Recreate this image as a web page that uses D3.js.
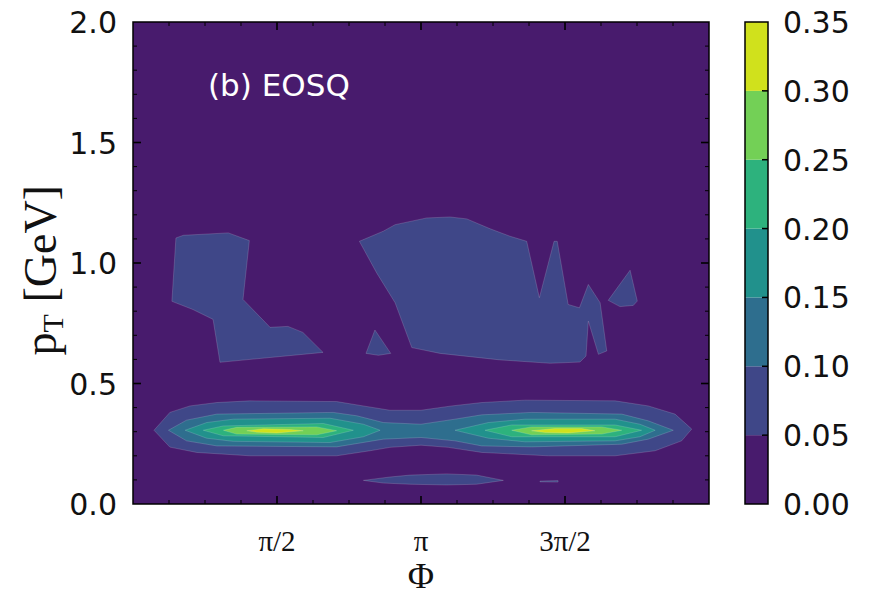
<!DOCTYPE html>
<html>
<head>
    <title>EOSQ contour</title>
    <meta charset="UTF-8">
    <script src="https://d3js.org/d3.v7.min.js"></script>
    <style>
        body { margin: 0; background: #fff; }
        svg text { font-family: "DejaVu Sans", sans-serif; }
        .serif { font-family: "Liberation Serif", "DejaVu Serif", serif !important; }
    </style>
</head>
<body>
<svg width="871" height="597"></svg>
<script>
    // contour levels of the density
    var levels = [0, 0.05, 0.10, 0.15, 0.20, 0.25, 0.30, 0.35];

    // x ticks, in units of pi
    var phiMajor = [0.5, 1, 1.5];
    var phiLabels = ["\u03c0/2", "\u03c0", "3\u03c0/2"];
    var ptMajor = [0, 0.5, 1.0, 1.5, 2.0];

    // regions above each level, vertices as [phi/pi, pT]
    var above005 = [
        [[0.149,1.104],[0.175,1.115],[0.331,1.125],[0.404,1.093],[0.382,0.849],[0.476,0.733],[0.538,0.737],[0.590,0.712],[0.660,0.629],[0.302,0.588],[0.278,0.766],[0.208,0.807],[0.135,0.841]],
        [[0.786,1.090],[0.869,1.132],[0.910,1.159],[1.020,1.187],[1.101,1.191],[1.159,1.183],[1.240,1.142],[1.309,1.111],[1.367,1.090],[1.411,0.856],[1.462,1.090],[1.473,1.090],[1.511,0.828],[1.550,0.814],[1.581,0.911],[1.622,0.835],[1.645,0.635],[1.616,0.621],[1.581,0.759],[1.573,0.614],[1.552,0.589],[1.448,0.584],[1.274,0.598],[1.066,0.625],[0.968,0.649],[0.910,0.835],[0.846,0.959]],
        [[0.840,0.722],[0.895,0.625],[0.852,0.617],[0.809,0.625]],
        [[1.726,0.970],[1.751,0.842],[1.737,0.824],[1.691,0.819],[1.650,0.845]],
        [[0.073,0.306],[0.128,0.380],[0.198,0.407],[0.291,0.421],[0.406,0.428],[0.707,0.425],[0.799,0.407],[0.892,0.389],[1.000,0.389],[1.107,0.407],[1.211,0.421],[1.361,0.431],[1.674,0.428],[1.789,0.407],[1.882,0.373],[1.940,0.311],[1.905,0.262],[1.813,0.221],[1.674,0.200],[1.442,0.200],[1.211,0.214],[1.095,0.235],[1.000,0.244],[0.892,0.235],[0.823,0.221],[0.707,0.200],[0.406,0.200],[0.221,0.214],[0.128,0.236]],
        [[0.800,0.098],[0.892,0.112],[0.962,0.120],[1.089,0.125],[1.193,0.120],[1.286,0.098],[1.193,0.082],[1.089,0.079],[0.962,0.082],[0.869,0.087]],
        [[1.413,0.095],[1.476,0.097],[1.476,0.091],[1.413,0.092]]
    ];
    var above010 = [
        [[0.123,0.306],[0.186,0.348],[0.291,0.373],[0.695,0.380],[0.777,0.366],[0.869,0.338],[1.000,0.331],[1.118,0.352],[1.211,0.370],[1.384,0.380],[1.697,0.373],[1.789,0.345],[1.876,0.306],[1.789,0.269],[1.697,0.248],[1.384,0.237],[1.211,0.241],[1.118,0.262],[1.000,0.276],[0.869,0.269],[0.707,0.237],[0.291,0.241],[0.186,0.262]]
    ];
    var above015 = [
        [[0.181,0.306],[0.256,0.338],[0.348,0.352],[0.684,0.356],[0.800,0.331],[0.858,0.306],[0.800,0.279],[0.684,0.255],[0.348,0.260],[0.256,0.273]],
        [[1.118,0.306],[1.234,0.338],[1.361,0.352],[1.674,0.352],[1.760,0.331],[1.813,0.306],[1.760,0.279],[1.674,0.262],[1.361,0.258],[1.234,0.273]]
    ];
    var above020 = [
        [[0.244,0.306],[0.314,0.324],[0.661,0.334],[0.765,0.306],[0.661,0.276],[0.314,0.283]],
        [[1.222,0.306],[1.315,0.328],[1.674,0.328],[1.766,0.306],[1.674,0.279],[1.315,0.279]]
    ];
    var above025 = [
        [[0.314,0.306],[0.360,0.318],[0.638,0.320],[0.707,0.304],[0.638,0.287],[0.360,0.290]],
        [[1.315,0.306],[1.384,0.320],[1.627,0.320],[1.697,0.306],[1.627,0.290],[1.384,0.287]]
    ];
    var above030 = [
        [[0.395,0.304],[0.452,0.312],[0.545,0.309],[0.591,0.304],[0.499,0.295],[0.430,0.298]],
        [[1.384,0.304],[1.465,0.313],[1.558,0.313],[1.604,0.304],[1.511,0.295],[1.431,0.297]]
    ];
    var regionsByLevel = [above005, above010, above015, above020, above025, above030];

    var svg = d3.select("svg");
    var mLeft = 133, mRight = 709, mTop = 22, mBottom = 504;

    var x = d3.scaleLinear().domain([0, 2 * Math.PI]).range([mLeft, mRight]);
    var y = d3.scaleLinear().domain([0, 2]).range([mBottom, mTop]);

    // matplotlib contourf colours: viridis sampled at the layer centres
    var nLayers = levels.length - 1;
    var layerColor = function(i) { return d3.interpolateViridis((i + 0.5) / nLayers); };

    var plot = svg.append("g");
    plot.append("rect")
        .attr("x", mLeft).attr("y", mTop)
        .attr("width", mRight - mLeft).attr("height", mBottom - mTop)
        .attr("fill", layerColor(0));

    var line = d3.line()
        .x(function(d) { return x(d[0] * Math.PI); })
        .y(function(d) { return y(d[1]); })
        .curve(d3.curveLinearClosed);

    regionsByLevel.forEach(function(regions, i) {
        plot.selectAll("path.l" + i)
            .data(regions)
            .enter()
            .append("path")
            .attr("class", "l" + i)
            .attr("d", line)
            .attr("fill", layerColor(i + 1))
            .attr("stroke", "rgba(255,255,255,0.2)")
            .attr("stroke-width", 0.8);
    });

    // ticks on all four sides, pointing inward
    var phiMinor = d3.range(1, 16).map(function(k) { return k / 8; });
    var ptMinor = d3.range(1, 20).map(function(k) { return k / 10; });
    var ticks = svg.append("g").attr("stroke", "#000");

    phiMinor.forEach(function(p) {
        var major = phiMajor.indexOf(p) >= 0;
        var len = major ? 8 : 4;
        var xx = x(p * Math.PI);
        ticks.append("line").attr("x1", xx).attr("x2", xx).attr("y1", mBottom).attr("y2", mBottom - len).attr("stroke-width", major ? 1.6 : 1);
        ticks.append("line").attr("x1", xx).attr("x2", xx).attr("y1", mTop).attr("y2", mTop + len).attr("stroke-width", major ? 1.6 : 1);
    });
    ptMinor.forEach(function(v) {
        var major = Math.abs(v * 2 - Math.round(v * 2)) < 1e-6;
        var len = major ? 8 : 4;
        var yy = y(v);
        ticks.append("line").attr("y1", yy).attr("y2", yy).attr("x1", mLeft).attr("x2", mLeft + len).attr("stroke-width", major ? 1.6 : 1);
        ticks.append("line").attr("y1", yy).attr("y2", yy).attr("x1", mRight).attr("x2", mRight - len).attr("stroke-width", major ? 1.6 : 1);
    });

    svg.append("rect")
        .attr("x", mLeft).attr("y", mTop)
        .attr("width", mRight - mLeft).attr("height", mBottom - mTop)
        .attr("fill", "none").attr("stroke", "#000").attr("stroke-width", 1.5);

    // tick labels
    svg.selectAll("text.ylab")
        .data(ptMajor)
        .enter()
        .append("text")
        .attr("class", "ylab")
        .attr("x", mLeft - 16)
        .attr("y", function(d) { return y(d) + 11; })
        .attr("text-anchor", "end")
        .attr("font-size", 30)
        .attr("fill", "#111")
        .text(function(d) { return d3.format(".1f")(d); });

    svg.selectAll("text.xlab")
        .data(phiMajor)
        .enter()
        .append("text")
        .attr("class", "xlab serif")
        .attr("x", function(d) { return x(d * Math.PI); })
        .attr("y", 551)
        .attr("text-anchor", "middle")
        .attr("font-size", 29)
        .attr("fill", "#111")
        .text(function(d, i) { return phiLabels[i]; });

    // axis titles
    svg.append("text")
        .attr("class", "serif")
        .attr("x", x(Math.PI)).attr("y", 588)
        .attr("text-anchor", "middle")
        .attr("font-size", 36)
        .attr("fill", "#111")
        .text("\u03a6");

    var yt = svg.append("text")
        .attr("class", "serif")
        .attr("transform", "translate(56," + y(0.97) + ") rotate(-90)")
        .attr("text-anchor", "middle")
        .attr("font-size", 46)
        .attr("fill", "#111");
    yt.append("tspan").text("p");
    yt.append("tspan").attr("font-size", 30).attr("dy", 7).text("T");
    yt.append("tspan").attr("dy", -7).text(" [GeV]");

    svg.append("text")
        .attr("x", 208).attr("y", 96)
        .attr("font-size", 31)
        .attr("fill", "#fff")
        .text("(b) EOSQ");

    // colour bar
    var cbLeft = 745, cbWidth = 23;
    var cy = d3.scaleLinear().domain([0, 0.35]).range([mBottom, mTop]);
    var cb = svg.append("g");
    cb.selectAll("rect.seg")
        .data(d3.range(nLayers))
        .enter()
        .append("rect")
        .attr("class", "seg")
        .attr("x", cbLeft)
        .attr("y", function(i) { return cy(levels[i + 1]); })
        .attr("width", cbWidth)
        .attr("height", function(i) { return cy(levels[i]) - cy(levels[i + 1]); })
        .attr("fill", function(i) { return layerColor(i); });
    cb.selectAll("line.cbt")
        .data(levels.slice(1, -1))
        .enter()
        .append("line")
        .attr("x1", cbLeft + cbWidth - 6).attr("x2", cbLeft + cbWidth)
        .attr("y1", function(d) { return cy(d); }).attr("y2", function(d) { return cy(d); })
        .attr("stroke", "#000").attr("stroke-width", 1.5);
    cb.append("rect")
        .attr("x", cbLeft).attr("y", mTop)
        .attr("width", cbWidth).attr("height", mBottom - mTop)
        .attr("fill", "none").attr("stroke", "#000").attr("stroke-width", 1.5);
    cb.selectAll("text.cbl")
        .data(levels)
        .enter()
        .append("text")
        .attr("class", "cbl")
        .attr("x", 783)
        .attr("y", function(d) { return cy(d) + 11; })
        .attr("font-size", 30)
        .attr("fill", "#111")
        .text(function(d) { return d3.format(".2f")(d); });
</script>
</body>
</html>
